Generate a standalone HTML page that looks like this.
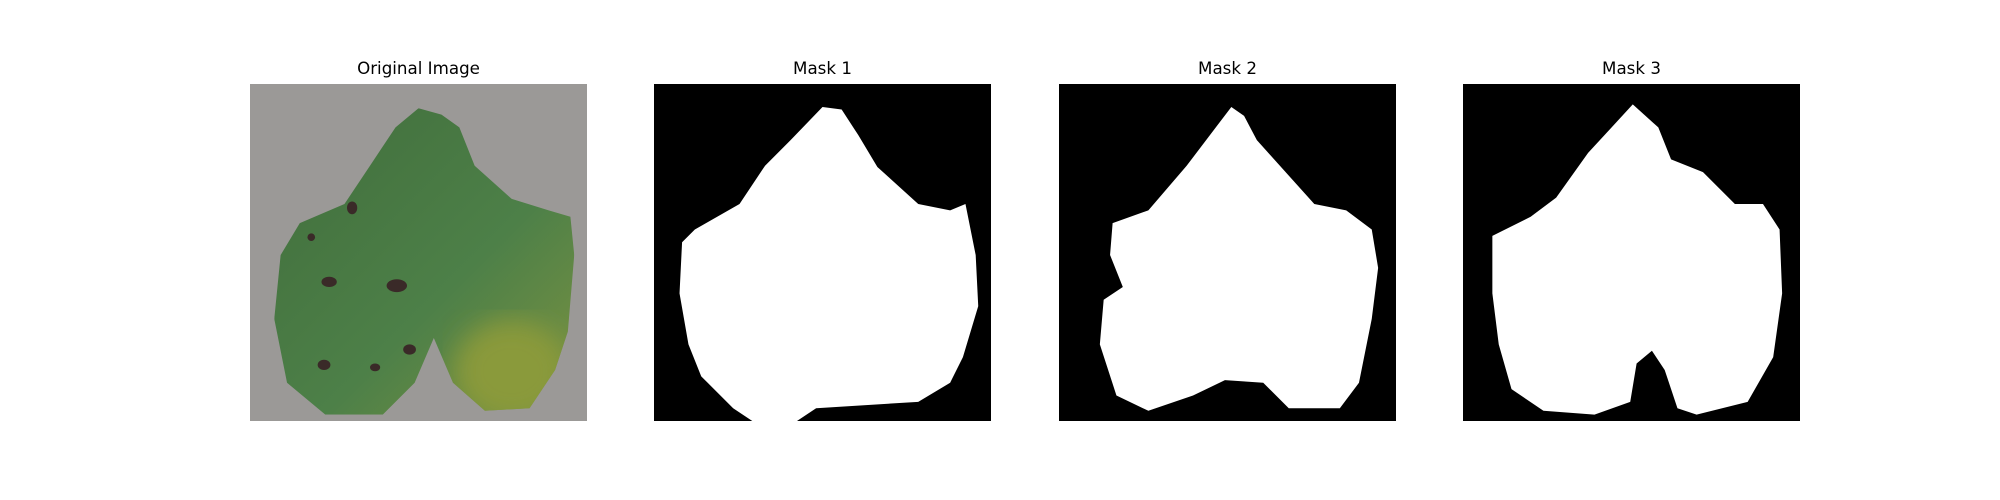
<!DOCTYPE html>
<html><head><meta charset="utf-8"><style>
body{margin:0;background:#fff;width:2000px;height:500px;overflow:hidden;position:relative;font-family:"DejaVu Sans","Liberation Sans",sans-serif}
.t{position:absolute;top:58px;width:337px;text-align:center;font-size:16.7px;color:#000}
svg.p{position:absolute;top:84px;width:337px;height:337px}
</style></head><body>
<div class="t" style="left:250px">Original Image</div>
<div class="t" style="left:654px">Mask 1</div>
<div class="t" style="left:1059px">Mask 2</div>
<div class="t" style="left:1463px">Mask 3</div>

<svg class="p" style="left:250px" viewBox="0 0 264 264" preserveAspectRatio="none">
<defs>
<linearGradient id="lg" x1="0" y1="0" x2="1" y2="1"><stop offset="0" stop-color="#3f6b3a"/><stop offset="0.6" stop-color="#4d8048"/><stop offset="1" stop-color="#7f9440"/></linearGradient>
<filter id="bl"><feGaussianBlur stdDeviation="10"/></filter>
<clipPath id="leaf"><path d="M132,19 L150,24 L164,34 L176,64 L205,90 L234,99 L251,104 L254,134 L249,194 L239,224 L219,254 L184,256 L159,234 L144,199 L129,234 L104,259 L59,259 L29,234 L19,184 L24,134 L39,109 L74,94 L94,64 L114,34 Z"/></clipPath>
</defs>
<rect width="264" height="264" fill="#9b9997"/>
<g clip-path="url(#leaf)">
<rect width="264" height="264" fill="url(#lg)"/>
<ellipse cx="205" cy="225" rx="45" ry="40" fill="#8a9a3a" filter="url(#bl)"/>
</g>
<g fill="#3a2a28"><ellipse cx="80" cy="97" rx="4" ry="5"/><ellipse cx="62" cy="155" rx="6" ry="4"/><ellipse cx="115" cy="158" rx="8" ry="5"/><ellipse cx="58" cy="220" rx="5" ry="4"/><ellipse cx="125" cy="208" rx="5" ry="4"/><ellipse cx="98" cy="222" rx="4" ry="3"/><ellipse cx="48" cy="120" rx="3" ry="3"/></g>
</svg>

<svg class="p" style="left:654px" viewBox="0 0 264 264" preserveAspectRatio="none">
<rect width="264" height="264" fill="#000"/>
<path d="M132,18 L147,20 L160,40 L175,65 L207,94 L232,99 L244,94 L252,134 L254,174 L242,214 L232,234 L207,249 L127,254 L112,264 L77,264 L62,254 L37,229 L27,204 L20,164 L22,124 L32,114 L67,94 L87,64 L107,44 Z" fill="#fff"/>
</svg>

<svg class="p" style="left:1059px" viewBox="0 0 264 264" preserveAspectRatio="none">
<rect width="264" height="264" fill="#000"/>
<path d="M135,18 L145,25 L155,44 L200,94 L225,99 L245,114 L250,144 L245,184 L235,234 L220,254 L180,254 L160,234 L130,232 L105,244 L70,256 L45,244 L32,204 L35,169 L50,159 L40,134 L42,109 L70,99 L100,64 Z" fill="#fff"/>
</svg>

<svg class="p" style="left:1463px" viewBox="0 0 264 264" preserveAspectRatio="none">
<rect width="264" height="264" fill="#000"/>
<path d="M133,16 L153,34 L163,59 L188,69 L213,94 L235,94 L248,114 L250,164 L243,214 L223,249 L183,259 L168,254 L158,224 L148,209 L136,219 L131,249 L103,259 L63,256 L38,239 L28,204 L23,164 L23,119 L53,104 L73,89 L98,54 Z" fill="#fff"/>
</svg>
</body></html>
